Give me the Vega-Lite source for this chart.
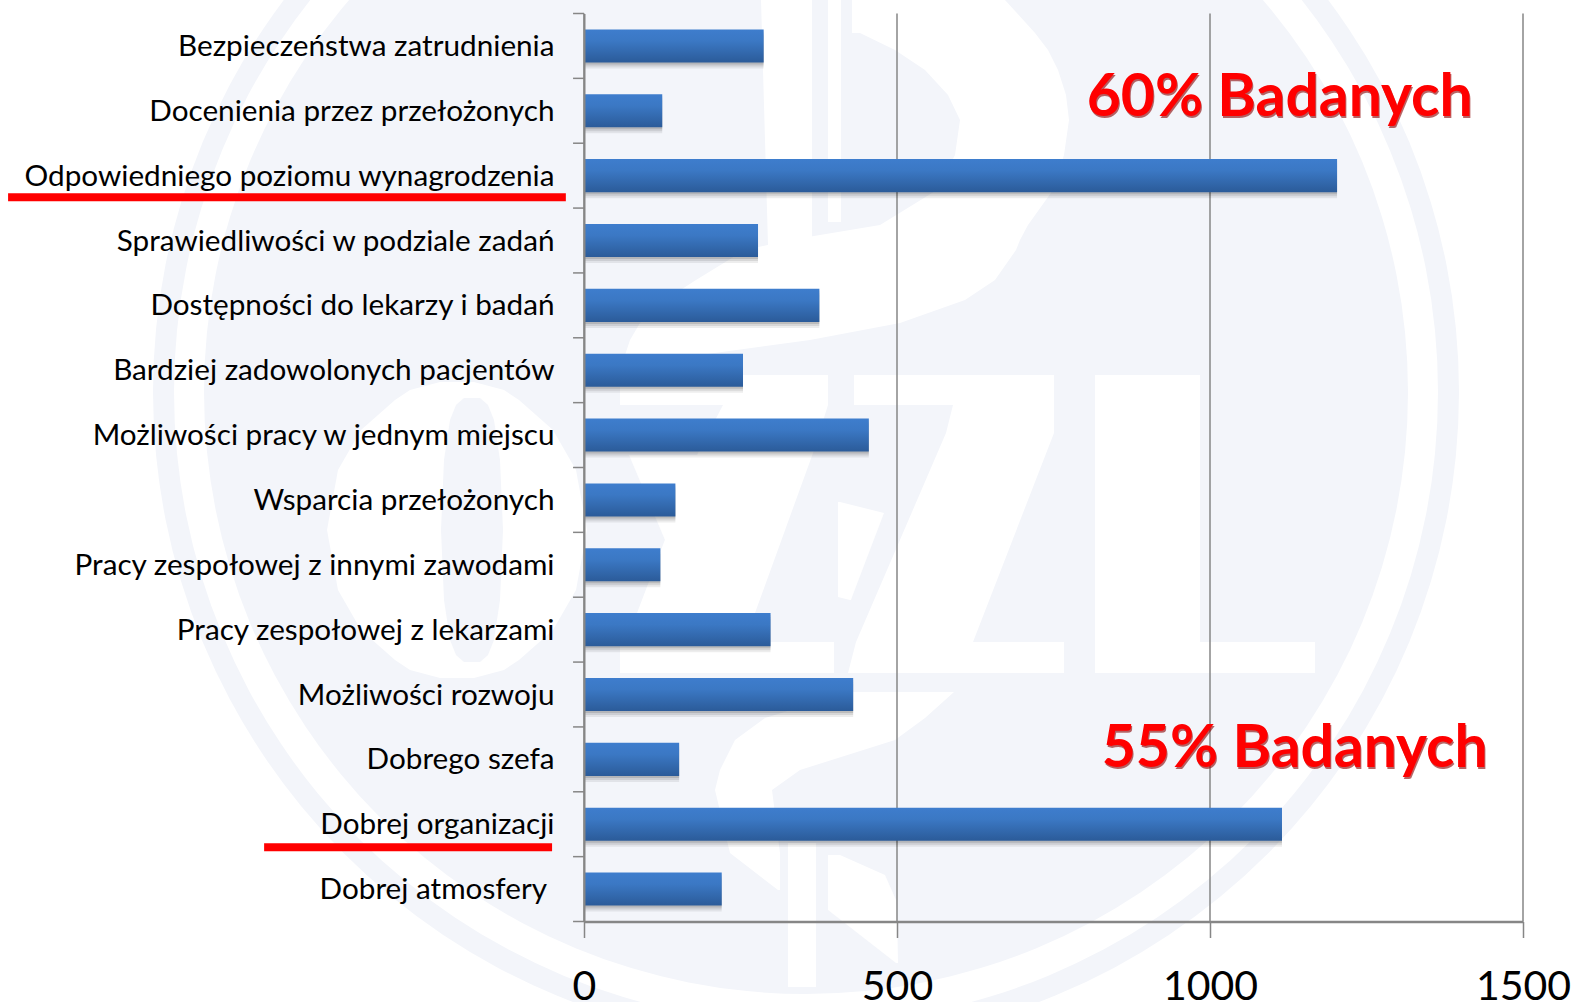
{
"$schema":"https://vega.github.io/schema/vega-lite/v6.json",
"autosize":"none",
"width":939,"height":908,
"padding":{"left":584,"top":13.5,"right":53,"bottom":80.5},
"background":"#ffffff",
"config":{"view":{"stroke":null}},
"datasets":{
"rows":[
{"powod":"Bezpieczeństwa zatrudnienia","n":287},
{"powod":"Docenienia przez przełożonych","n":125},
{"powod":"Odpowiedniego poziomu wynagrodzenia","n":1203},
{"powod":"Sprawiedliwości w podziale zadań","n":278},
{"powod":"Dostępności do lekarzy i badań","n":376},
{"powod":"Bardziej zadowolonych pacjentów","n":254},
{"powod":"Możliwości pracy w jednym miejscu","n":455},
{"powod":"Wsparcia przełożonych","n":146},
{"powod":"Pracy zespołowej z innymi zawodami","n":122},
{"powod":"Pracy zespołowej z lekarzami","n":298},
{"powod":"Możliwości rozwoju","n":430},
{"powod":"Dobrego szefa","n":152},
{"powod":"Dobrej organizacji","n":1115},
{"powod":"Dobrej atmosfery","n":220}
],
"center":[{"wx":806,"wy":392}],
"shapes":[
{"s":"O","wy":382,"a":440,"b":474},{"s":"O","wy":390,"a":410,"b":504},{"s":"O","wy":400,"a":395,"b":519},{"s":"O","wy":430,"a":361,"b":553},{"s":"O","wy":470,"a":338,"b":576},{"s":"O","wy":530,"a":327,"b":587},{"s":"O","wy":590,"a":338,"b":576},{"s":"O","wy":630,"a":361,"b":553},{"s":"O","wy":660,"a":395,"b":519},{"s":"O","wy":670,"a":410,"b":504},{"s":"O","wy":678,"a":440,"b":474},
{"s":"L1","wy":375,"a":620,"b":828},{"s":"L1","wy":405,"a":620,"b":828},{"s":"L1","wy":405.1,"a":723,"b":828},{"s":"L1","wy":453,"a":698,"b":813},{"s":"L1","wy":613,"a":637,"b":755},{"s":"L1","wy":642,"a":625,"b":745},{"s":"L1","wy":642.1,"a":620,"b":834},{"s":"L1","wy":673,"a":620,"b":834},
{"s":"L2","wy":375,"a":854,"b":1054},{"s":"L2","wy":405,"a":854,"b":1054},{"s":"L2","wy":405.1,"a":953,"b":1054},{"s":"L2","wy":433,"a":946,"b":1054},{"s":"L2","wy":642,"a":856,"b":973},{"s":"L2","wy":642.1,"a":856,"b":1064},{"s":"L2","wy":673,"a":848,"b":1064},
{"s":"L3","wy":375,"a":1095,"b":1200},{"s":"L3","wy":642,"a":1095,"b":1200},{"s":"L3","wy":642.1,"a":1095,"b":1315},{"s":"L3","wy":673,"a":1095,"b":1315},
{"s":"S","wy":502,"a":838,"b":840},{"s":"S","wy":513,"a":838,"b":884},{"s":"S","wy":597,"a":838,"b":852},{"s":"S","wy":600,"a":850,"b":851},
{"s":"V","wy":455,"a":629,"b":702},{"s":"V","wy":540,"a":665,"b":675},
{"s":"T1","wy":0,"a":761,"b":812},{"s":"T1","wy":245,"a":768,"b":812},
{"s":"T2","wy":0,"a":828,"b":841},{"s":"T2","wy":222,"a":828,"b":841},
{"s":"C","wy":0,"a":852,"b":1005},{"s":"C","wy":33,"a":852,"b":1035},{"s":"C","wy":33.1,"a":860,"b":1035},{"s":"C","wy":50,"a":895,"b":1048},{"s":"C","wy":70,"a":925,"b":1058},{"s":"C","wy":95,"a":948,"b":1066},{"s":"C","wy":120,"a":960,"b":1069},{"s":"C","wy":155,"a":955,"b":1064},{"s":"C","wy":190,"a":937,"b":1053},{"s":"C","wy":225,"a":880,"b":1028},{"s":"C","wy":240,"a":790,"b":1020},{"s":"C","wy":250,"a":745,"b":1016},{"s":"C","wy":280,"a":696,"b":995},{"s":"C","wy":300,"a":665,"b":965},{"s":"C","wy":323,"a":640,"b":900},{"s":"C","wy":340,"a":630,"b":810},{"s":"C","wy":355,"a":625,"b":700},
{"s":"B","wy":692,"a":850,"b":954},{"s":"B","wy":718,"a":765,"b":925},{"s":"B","wy":740,"a":735,"b":895},{"s":"B","wy":770,"a":720,"b":800},{"s":"B","wy":790,"a":715,"b":772},{"s":"B","wy":853,"a":730,"b":780},{"s":"B","wy":890,"a":778,"b":780},
{"s":"St","wy":843,"a":788,"b":816},{"s":"St","wy":987,"a":788,"b":816},
{"s":"R","wy":855,"a":828,"b":840},{"s":"R","wy":875,"a":828,"b":885},{"s":"R","wy":900,"a":828,"b":896},{"s":"R","wy":910,"a":828,"b":897},{"s":"R","wy":963,"a":896,"b":898}
],
"hole":[
{"s":"H","wy":398,"a":464,"b":480},{"s":"H","wy":405,"a":456,"b":488},{"s":"H","wy":420,"a":450,"b":494},{"s":"H","wy":460,"a":444,"b":500},{"s":"H","wy":530,"a":441,"b":503},{"s":"H","wy":600,"a":444,"b":500},{"s":"H","wy":640,"a":450,"b":494},{"s":"H","wy":655,"a":456,"b":488},{"s":"H","wy":662,"a":464,"b":480}
],
"grid":[{"g":0},{"g":500},{"g":1000},{"g":1500}],
"under":[{"powod":"Odpowiedniego poziomu wynagrodzenia","x1":-920,"x2":-29,"k":"a"},{"powod":"Dobrej organizacji","x1":-511,"x2":-51,"k":"b"}],
"notes":[{"powod":"Docenienia przez przełożonych","v":803,"t":"60% Badanych","k":"a"},{"powod":"Dobrego szefa","v":827,"t":"55% Badanych","k":"b"}],
"topTick":[{"powod":"Bezpieczeństwa zatrudnienia","x1":-17.5,"x2":0}],
"lastLabel":[{"powod":"Dobrej atmosfery","x0":0}]
},
"layer":[
{"data":{"name":"center"},
 "encoding":{
  "x":{"field":"wx","type":"quantitative","scale":{"domain":[584,1523],"nice":false,"zero":false},"axis":null},
  "y":{"field":"wy","type":"quantitative","scale":{"domain":[921.5,13.5],"nice":false,"zero":false},"axis":null}},
 "layer":[
  {"mark":{"type":"point","filled":true,"shape":"circle","size":1705636,"color":"#f3f5fa","opacity":1}},
  {"mark":{"type":"point","filled":true,"shape":"circle","size":1597696,"color":"#ffffff","opacity":1}},
  {"mark":{"type":"point","filled":true,"shape":"circle","size":1449616,"color":"#f3f5fa","opacity":1}}
 ]},
{"data":{"name":"shapes"},
 "mark":{"type":"area","orient":"horizontal","color":"#ffffff","opacity":1},
 "encoding":{
  "y":{"field":"wy","type":"quantitative","scale":{"domain":[921.5,13.5],"nice":false,"zero":false},"axis":null},
  "x":{"field":"a","type":"quantitative","scale":{"domain":[584,1523],"nice":false,"zero":false},"axis":null},
  "x2":{"field":"b"},
  "detail":{"field":"s"}}},
{"data":{"name":"hole"},
 "mark":{"type":"area","orient":"horizontal","color":"#f3f5fa","opacity":1},
 "encoding":{
  "y":{"field":"wy","type":"quantitative","scale":{"domain":[921.5,13.5],"nice":false,"zero":false},"axis":null},
  "x":{"field":"a","type":"quantitative","scale":{"domain":[584,1523],"nice":false,"zero":false},"axis":null},
  "x2":{"field":"b"},
  "detail":{"field":"s"}}},
{"layer":[
 {"data":{"name":"grid"},
  "mark":{"type":"rule","color":"#868686","strokeWidth":1.5},
  "encoding":{"x":{"field":"g","type":"quantitative","scale":{"domain":[0,1500],"nice":false},
   "axis":{"values":[0,500,1000,1500],"format":"d","title":null,"grid":false,"zindex":1,"domainColor":"#868686","domainWidth":2.5,"tickColor":"#868686","tickWidth":1.5,"tickSize":16,"labelFont":"Lato","labelFontSize":41,"labelColor":"#000000","labelPadding":30,"labelFlush":false}}}},
 {"data":{"name":"rows"},
  "encoding":{
   "y":{"field":"powod","type":"nominal",
    "scale":{"domain":["Bezpieczeństwa zatrudnienia","Docenienia przez przełożonych","Odpowiedniego poziomu wynagrodzenia","Sprawiedliwości w podziale zadań","Dostępności do lekarzy i badań","Bardziej zadowolonych pacjentów","Możliwości pracy w jednym miejscu","Wsparcia przełożonych","Pracy zespołowej z innymi zawodami","Pracy zespołowej z lekarzami","Możliwości rozwoju","Dobrego szefa","Dobrej organizacji","Dobrej atmosfery"],"paddingInner":0.49,"paddingOuter":0.245},
    "axis":{"title":null,"zindex":1,"ticks":false,"domainColor":"#868686","domainWidth":2,"labelFont":"Lato","labelFontSize":29.7,"labelColor":"#000000","labelPadding":30,"labelOffset":1,"labelLimit":700,"labelExpr":"datum.label == 'Dobrej atmosfery' ? '' : datum.label"}},
   "x":{"field":"n","type":"quantitative"}},
  "layer":[
   {"mark":{"type":"rule","color":"#868686","strokeWidth":1.5,"yOffset":32.43},
    "encoding":{"x":{"datum":-17.5},"x2":{"datum":0}}},
   {"mark":{"type":"bar","color":"#000000","opacity":0.07,"yOffset":6,"x2Offset":2,"cornerRadius":0}},
   {"mark":{"type":"bar","color":"#000000","opacity":0.09,"yOffset":4,"x2Offset":2}},
   {"mark":{"type":"bar","color":"#000000","opacity":0.12,"yOffset":2,"x2Offset":1}},
   {"mark":{"type":"bar","opacity":1,"color":{"gradient":"linear","x1":0,"y1":0,"x2":0,"y2":1,"stops":[{"offset":0,"color":"#3e7dcd"},{"offset":0.35,"color":"#3b78c4"},{"offset":1,"color":"#2b5b99"}]}}}
  ]},
 {"data":{"name":"lastLabel"},
  "mark":{"type":"text","font":"Lato","fontSize":29.7,"color":"#000000","align":"right","baseline":"middle","dx":-37,"dy":1},
  "encoding":{"y":{"field":"powod","type":"nominal"},"x":{"field":"x0","type":"quantitative"},"text":{"field":"powod"}}},
 {"data":{"name":"topTick"},
  "mark":{"type":"rule","color":"#868686","strokeWidth":1.5,"yOffset":-32.43},
  "encoding":{"y":{"field":"powod","type":"nominal"},"x":{"field":"x1","type":"quantitative"},"x2":{"field":"x2"}}},
 {"data":{"name":"under"},"transform":[{"filter":"datum.k=='a'"}],
  "mark":{"type":"rule","color":"#ff0000","strokeWidth":8,"yOffset":21.7},
  "encoding":{"y":{"field":"powod","type":"nominal"},"x":{"field":"x1","type":"quantitative"},"x2":{"field":"x2"}}},
 {"data":{"name":"under"},"transform":[{"filter":"datum.k=='b'"}],
  "mark":{"type":"rule","color":"#ff0000","strokeWidth":8,"yOffset":23},
  "encoding":{"y":{"field":"powod","type":"nominal"},"x":{"field":"x1","type":"quantitative"},"x2":{"field":"x2"}}},
 {"data":{"name":"notes"},"transform":[{"filter":"datum.k=='a'"}],
  "mark":{"type":"text","font":"Lato","fontSize":58.8,"fontWeight":"bold","align":"left","baseline":"alphabetic","color":"#8a0000","opacity":0.6,"dy":7.5,"dx":1},
  "encoding":{"y":{"field":"powod","type":"nominal"},"x":{"field":"v","type":"quantitative"},"text":{"field":"t"}}},
 {"data":{"name":"notes"},"transform":[{"filter":"datum.k=='a'"}],
  "mark":{"type":"text","font":"Lato","fontSize":58.8,"fontWeight":"bold","align":"left","baseline":"alphabetic","color":"#ff0000","dy":5.5},
  "encoding":{"y":{"field":"powod","type":"nominal"},"x":{"field":"v","type":"quantitative"},"text":{"field":"t"}}},
 {"data":{"name":"notes"},"transform":[{"filter":"datum.k=='b'"}],
  "mark":{"type":"text","font":"Lato","fontSize":58.8,"fontWeight":"bold","align":"left","baseline":"alphabetic","color":"#8a0000","opacity":0.6,"dy":10,"dx":1},
  "encoding":{"y":{"field":"powod","type":"nominal"},"x":{"field":"v","type":"quantitative"},"text":{"field":"t"}}},
 {"data":{"name":"notes"},"transform":[{"filter":"datum.k=='b'"}],
  "mark":{"type":"text","font":"Lato","fontSize":58.8,"fontWeight":"bold","align":"left","baseline":"alphabetic","color":"#ff0000","dy":8},
  "encoding":{"y":{"field":"powod","type":"nominal"},"x":{"field":"v","type":"quantitative"},"text":{"field":"t"}}}
 ]}
],
"resolve":{"scale":{"x":"independent","y":"independent"}}
}
